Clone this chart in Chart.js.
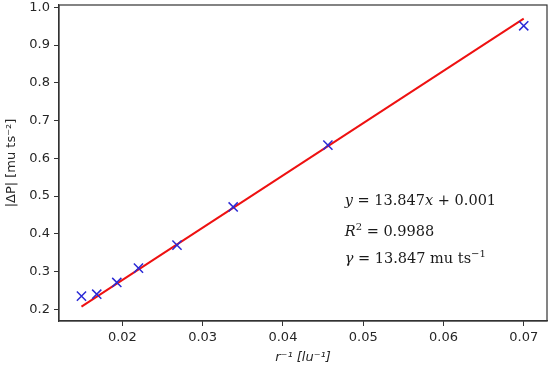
<!DOCTYPE html>
<html>
<head>
<meta charset="utf-8">
<script src="https://cdn.jsdelivr.net/npm/chart.js@4.4.1/dist/chart.umd.min.js"></script>
<style>
  html, body { margin: 0; padding: 0; background: #fff; }
</style>
</head>
<body>
<canvas id="plot" width="550" height="370"></canvas>
<script>
// measured points (inverse radius vs pressure drop)
var invRadius = [0.0149, 0.0168, 0.0193, 0.0220, 0.0268, 0.0338, 0.0456, 0.0700];
var pressureDrop = [0.235, 0.240, 0.271, 0.309, 0.370, 0.471, 0.635, 0.951];

// fitted line end points
var fitX = [0.0149, 0.0700];
var fitY = [0.207, 0.970];

var xTicks = [0.02, 0.03, 0.04, 0.05, 0.06, 0.07];
var yTicks = [0.2, 0.3, 0.4, 0.5, 0.6, 0.7, 0.8, 0.9, 1.0];

var fitText = [
  [["y", true], [" = 13.847", false], ["x", true], [" + 0.001", false]],
  [["R", true], ["2", false, true], [" = 0.9988", false]],
  [["\u03b3", true], [" = 13.847 mu ts", false], ["\u22121", false, true]],
];

var ink = "#262626";

const framePlugin = {
  id: "frame",
  afterDatasetsDraw(chart) {
    const a = chart.chartArea;
    const ctx = chart.ctx;
    ctx.save();
    ctx.strokeStyle = "#333";
    ctx.lineWidth = 1.2;
    ctx.strokeRect(a.left, a.top, a.right - a.left, a.bottom - a.top);
    ctx.restore();
  },
  afterDraw(chart) {
    const ctx = chart.ctx;
    const x0 = chart.scales.x.getPixelForValue(0.0477);
    const y0 = chart.scales.y.getPixelForValue(0.476);
    const gaps = [0, 31, 58];
    ctx.save();
    ctx.fillStyle = "#1a1a1a";
    ctx.textBaseline = "alphabetic";
    fitText.forEach((line, k) => {
      let x = x0;
      const y = y0 + gaps[k];
      line.forEach((part) => {
        const size = part[2] ? 10 : 14.5;
        ctx.font = (part[1] ? "italic " : "") + size + "px 'DejaVu Serif'";
        ctx.fillText(part[0], x, part[2] ? y - 6.5 : y);
        x += ctx.measureText(part[0]).width;
      });
    });
    ctx.restore();
  },
};

new Chart("plot", {
  type: "scatter",
  data: {
    datasets: [
      {
        data: fitX.map((x, i) => ({ x: x, y: fitY[i] })),
        showLine: true,
        borderColor: "#ee1111",
        borderWidth: 2,
        pointRadius: 0,
        order: 2,
      },
      {
        data: invRadius.map((x, i) => ({ x: x, y: pressureDrop[i] })),
        pointStyle: "crossRot",
        pointRadius: 6.5,
        borderColor: "#2a2ad6",
        borderWidth: 1.5,
        order: 1,
      },
    ],
  },
  options: {
    responsive: false,
    animation: false,
    devicePixelRatio: 1,
    layout: { autoPadding: false, padding: { left: 0, right: 3, top: 5, bottom: 0 } },
    plugins: {
      legend: { display: false },
      tooltip: { enabled: false },
    },
    scales: {
      x: {
        type: "linear",
        min: 0.0121,
        max: 0.0729,
        afterBuildTicks: (axis) => { axis.ticks = xTicks.map((v) => ({ value: v })); },
        afterFit: (axis) => {
          axis.height = 49;
          axis.paddingLeft = 0;
          axis.paddingRight = 0;
        },
        grid: { drawOnChartArea: false, drawTicks: true, tickLength: 5, color: "#333", tickWidth: 1 },
        border: { display: true, color: "#333", width: 1.2 },
        ticks: {
          padding: 4,
          autoSkip: false,
          color: ink,
          font: { family: "DejaVu Sans", size: 13 },
          maxRotation: 0,
          callback: (v) => v.toFixed(2),
        },
        title: {
          display: true,
          text: "r\u207b\u00b9 [lu\u207b\u00b9]",
          color: ink,
          font: { family: "DejaVu Sans", size: 13, style: "italic" },
          padding: { top: 0, bottom: 5 },
        },
      },
      y: {
        type: "linear",
        min: 0.169,
        max: 1.006,
        afterBuildTicks: (axis) => { axis.ticks = yTicks.map((v) => ({ value: v })); },
        afterFit: (axis) => {
          axis.width = 59;
          axis.paddingTop = 0;
          axis.paddingBottom = 0;
        },
        grid: { drawOnChartArea: false, drawTicks: true, tickLength: 5, color: "#333", tickWidth: 1 },
        border: { display: true, color: "#333", width: 1.2 },
        ticks: {
          padding: 4,
          autoSkip: false,
          color: ink,
          font: { family: "DejaVu Sans", size: 13 },
          callback: (v) => v.toFixed(1),
        },
        title: {
          display: true,
          text: "|\u0394P| [mu ts\u207b\u00b2]",
          color: ink,
          font: { family: "DejaVu Sans", size: 13 },
          padding: { top: 4, bottom: 0 },
        },
      },
    },
  },
  plugins: [framePlugin],
});
</script>
</body>
</html>
